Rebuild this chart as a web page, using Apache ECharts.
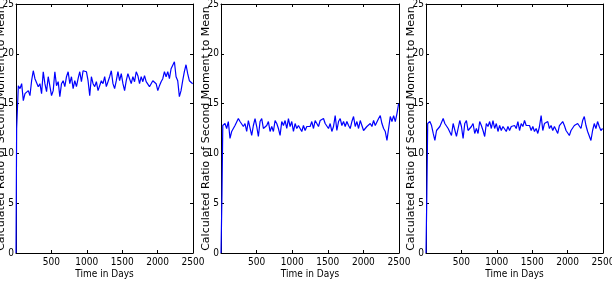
<!DOCTYPE html>
<html>
<head>
<meta charset="utf-8">
<script src="https://cdn.jsdelivr.net/npm/echarts@6/dist/echarts.min.js"></script>
<style>
html,body{margin:0;padding:0;background:#fff;}
#c{width:612px;height:282px;}
</style>
</head>
<body>
<div id="c"></div>
<script>
// ---- data ----
const xTicks = [0, 500, 1000, 1500, 2000, 2500];
const yTicks = [0, 5, 10, 15, 20, 25];
const xTitle = 'Time in Days';
const yTitle = 'Calculated Ratio of Second Moment to Mean';

// initial rise (day, value) for each panel
const rise1 = [[0, 0], [9, 12.5]];
const rise2 = [[0, 0], [14, 6], [25, 12.8]];
const rise3 = [[0, 0], [12, 6], [24, 13.0]];

// sampled values (every ~23.45 days) after the rise
const start1 = 33, start2 = 56, start3 = 55, stepDays = 23.45;

const panel1 = [16.8,16.5,17.0,15.3,16.0,15.9,16.3,15.8,17.3,18.3,17.5,17.7,16.7,17.0,16.0,18.2,17.0,16.2,17.7,17.7,
15.8,16.3,18.2,16.8,17.2,15.7,17.0,17.3,16.7,17.7,18.2,17.0,17.7,16.5,17.3,16.7,17.5,18.2,17.2,18.3,
18.5,18.2,17.3,15.8,17.7,17.0,16.7,17.2,16.3,16.5,17.3,17.0,17.7,16.7,17.2,17.7,18.3,17.0,16.5,17.3,
18.2,17.3,18.0,17.0,16.3,17.3,18.0,17.5,17.0,17.7,17.2,18.2,17.8,17.0,17.7,17.2,17.8,17.2,17.3,16.7,
17.0,17.3,17.2,17.0,16.3,16.8,17.2,17.5,18.2,17.7,18.2,17.5,18.5,18.3,19.2,17.7,17.3,15.7,16.3,17.3,
18.2,18.9,18.0,17.3,17.5,17.0];

const panel2 = [13.0,12.5,13.2,11.5,12.2,12.5,12.8,12.7,13.5,13.2,13.3,12.7,13.0,12.2,13.3,13.2,11.8,12.8,13.5,12.7,
11.7,13.2,13.5,12.5,12.3,12.8,13.2,12.2,12.7,12.2,13.3,13.0,12.5,11.8,13.2,12.8,13.3,12.5,13.5,12.7,
13.2,12.2,13.0,12.5,12.8,12.7,12.2,12.8,12.3,12.7,12.8,
12.7,13.2,12.5,13.3,13.0,12.7,13.3,13.2,13.5,13.0,12.8,12.5,13.0,12.2,12.7,13.8,12.3,13.2,13.5,12.8,
13.2,12.7,13.2,12.8,12.5,13.2,13.7,12.7,13.2,12.5,13.3,12.8,12.3,12.2,12.7,12.8,13.0,12.7,13.3,12.8,
12.7,13.5,13.8,13.0,12.5,12.2,11.3,12.5,13.7,13.2,13.8,13.2,14.0,15.0];

const panel3 = [13.2,12.8,12.0,11.3,12.3,12.2,12.7,12.5,13.5,13.0,13.2,12.5,12.7,11.8,13.0,12.8,11.7,12.5,13.3,12.7,
11.5,13.0,13.3,12.3,12.2,12.7,13.0,12.0,12.5,12.0,13.2,12.8,12.3,11.7,13.0,12.7,13.2,12.5,13.3,12.5,
13.0,12.2,12.8,12.3,12.7,12.5,12.2,12.7,12.3,12.7,12.8,
12.8,12.5,13.2,12.3,13.0,12.7,13.3,12.8,12.7,12.8,12.3,12.7,12.2,12.5,12.0,12.7,13.8,12.3,13.0,12.8,
13.2,12.5,12.8,12.3,12.7,12.5,12.0,12.8,12.7,13.2,12.8,12.3,12.2,11.8,12.3,12.5,12.8,12.7,13.0,12.8,
12.5,13.3,13.7,12.8,12.2,12.0,11.3,12.3,13.0,12.5,13.2,12.7,12.3,12.5];

function build(rise, start, vals) {
  const out = rise.slice();
  vals.forEach((v, i) => out.push([start + i * stepDays, v]));
  return out;
}
const series1 = build(rise1, start1, panel1);
const series2 = build(rise2, start2, panel2);
const series3 = build(rise3, start3, panel3);

// ---- layout ----
const grids = [
  {left: 16, top: 4, width: 177, height: 249, containLabel: false, outerBoundsMode: 'none'},
  {left: 221, top: 4, width: 178, height: 249, containLabel: false, outerBoundsMode: 'none'},
  {left: 426, top: 4, width: 177, height: 249, containLabel: false, outerBoundsMode: 'none'}
];
const tickFont = '"Liberation Sans Narrow","DejaVu Sans Condensed",sans-serif';
const lineStyleAx = {color: '#000', width: 1};
const plain = v => String(v);

const xAxes = [], yAxes = [], series = [];
const datasets = [series1, series2, series3];
grids.forEach((g, i) => {
  xAxes.push({
    type: 'value', gridIndex: i, min: xTicks[0], max: xTicks[xTicks.length - 1], interval: 500,
    position: 'bottom',
    name: xTitle, nameLocation: 'middle', nameGap: 16, nameMoveOverlap: false,
    nameTextStyle: {fontFamily: tickFont, fontSize: 10, color: '#000'},
    axisLine: {show: true, onZero: false, lineStyle: lineStyleAx},
    axisTick: {show: true, inside: true, length: 3, lineStyle: lineStyleAx},
    axisLabel: {margin: 4, fontFamily: tickFont, fontSize: 10, color: '#000', showMinLabel: false, formatter: plain},
    splitLine: {show: false}
  });
  xAxes.push({
    type: 'value', gridIndex: i, min: xTicks[0], max: xTicks[xTicks.length - 1], interval: 500,
    position: 'top',
    axisLine: {show: true, onZero: false, lineStyle: lineStyleAx},
    axisTick: {show: true, inside: true, length: 3, lineStyle: lineStyleAx},
    axisLabel: {show: false}, splitLine: {show: false}
  });
  yAxes.push({
    type: 'value', gridIndex: i, min: yTicks[0], max: yTicks[yTicks.length - 1], interval: 5,
    position: 'left',
    name: yTitle, nameLocation: 'middle', nameGap: 9, nameRotate: 90, nameMoveOverlap: false,
    nameTextStyle: {fontFamily: '"DejaVu Sans",sans-serif', fontSize: 11, color: '#000'},
    axisLine: {show: true, onZero: false, lineStyle: lineStyleAx},
    axisTick: {show: true, inside: true, length: 3, lineStyle: lineStyleAx},
    axisLabel: {margin: 2, fontFamily: tickFont, fontSize: 10, color: '#000', formatter: plain},
    splitLine: {show: false}
  });
  yAxes.push({
    type: 'value', gridIndex: i, min: yTicks[0], max: yTicks[yTicks.length - 1], interval: 5,
    position: 'right',
    axisLine: {show: true, onZero: false, lineStyle: lineStyleAx},
    axisTick: {show: true, inside: true, length: 3, lineStyle: lineStyleAx},
    axisLabel: {show: false}, splitLine: {show: false}
  });
  series.push({
    type: 'line', xAxisIndex: i * 2, yAxisIndex: i * 2, data: datasets[i],
    showSymbol: false, symbol: 'none', animation: false,
    lineStyle: {color: '#0000ff', width: 1.2}
  });
});

const chart = echarts.init(document.getElementById('c'), null, {renderer: 'canvas'});
chart.setOption({
  animation: false,
  backgroundColor: '#fff',
  grid: grids,
  xAxis: xAxes,
  yAxis: yAxes,
  series: series
});
</script>
</body>
</html>
